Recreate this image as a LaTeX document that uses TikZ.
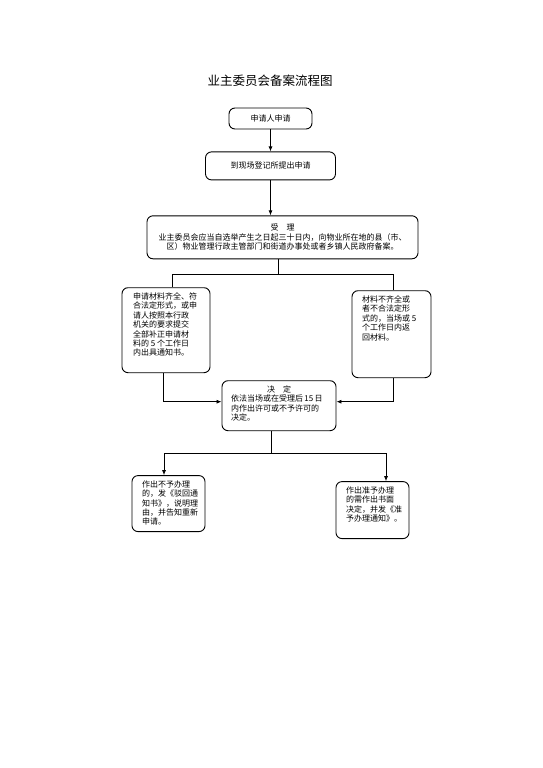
\documentclass[tikz,border=0pt]{standalone}
\usepackage{fontspec}
\usepackage{tikz}
\usetikzlibrary{arrows.meta, positioning}
\newfontfamily\cjk{Noto Sans CJK SC}
\newcommand{\cardtext}[3]{\parbox[c][#2][t]{#1}{\raggedright #3}}

\begin{document}
\begin{tikzpicture}[x=1pt, y=1pt,
			box/.style={draw, rounded corners=6pt, line width=0.9pt, align=center, font=\cjk\fontsize{8}{9.4}\selectfont},
			card/.style={box, inner xsep=10pt, inner ysep=5pt},
			arrow/.style={-{Latex[length=5pt, width=4pt]}, line width=0.8pt},
			link/.style={line width=0.8pt}
		]
		\useasboundingbox (0,0) rectangle (542,-768);
		\node[font=\cjk\fontsize{12.5}{14}\selectfont] (title) at (270,-81) {业主委员会备案流程图};
		\node[box, minimum width=83pt, minimum height=21pt] (apply) at (270.5,-118.5) {申请人申请};
		\node[box, minimum width=130pt, minimum height=28pt, below=22pt of apply] (submit) {到现场登记所提出申请};
		\node[box, minimum width=271pt, minimum height=43pt, below=35pt of submit, xshift=12pt] (accept) {受　理\\业主委员会应当自选举产生之日起三十日内，向物业所在地的县（市、\\区）物业管理行政主管部门和街道办事处或者乡镇人民政府备案。};
		\node[card, inner xsep=11pt, below=28pt of accept, xshift=-116.5pt] (complete) {\cardtext{66pt}{75pt}{申请材料齐全、符\\合法定形式，或申\\请人按照本行政\\机关的要求提交\\全部补正申请材\\料的 5 个工作日\\内出具通知书。}};
		\node[card, below=31pt of accept, xshift=109pt] (incomplete) {\cardtext{59pt}{77pt}{材料不齐全或\\者不合法定形\\式的，当场或 5\\个工作日内返\\回材料。}};
		\node[card, inner xsep=9pt, below=121pt of accept, xshift=-3.5pt] (decision) {\cardtext{96pt}{40pt}{\centering 决　定\par\raggedright 依法当场或在受理后\,15\,日\\内作出许可或不予许可的\\决定。}};
		\node[card, below=44pt of decision, xshift=-110.5pt] (reject) {\cardtext{53pt}{46pt}{作出不予办理\\的，发《驳回通\\知书》，说明理\\由，并告知重新\\申请。}};
		\node[card, below=50pt of decision, xshift=93.5pt] (grant) {\cardtext{53pt}{47pt}{作出准予办理\\的需作出书面\\决定，并发《准\\予办理通知》。}};
		
		\draw[arrow] (apply) -- (submit);
		\draw[arrow] (submit.south) -- (submit.south |- accept.north);
		\draw[link] ([xshift=-4.5pt]accept.south) -- ++(0,-15) coordinate (fork);
		\draw[link] ([xshift=6pt]complete.north) |- (fork) -| ([xshift=1.5pt]incomplete.north);
		\draw[arrow] ([xshift=-3pt]complete.south) |- ([yshift=4pt]decision.west);
		\draw[arrow] ([xshift=1.5pt]incomplete.south) |- ([yshift=4pt]decision.east);
		\draw[link] ([xshift=-8pt]decision.south) -- ++(0,-22) coordinate (split);
		\draw[arrow] (split) -| ([xshift=-4.5pt]reject.north);
		\draw[arrow] (split) -| ([xshift=13.5pt]grant.north);
		\end{tikzpicture}
\end{document}
